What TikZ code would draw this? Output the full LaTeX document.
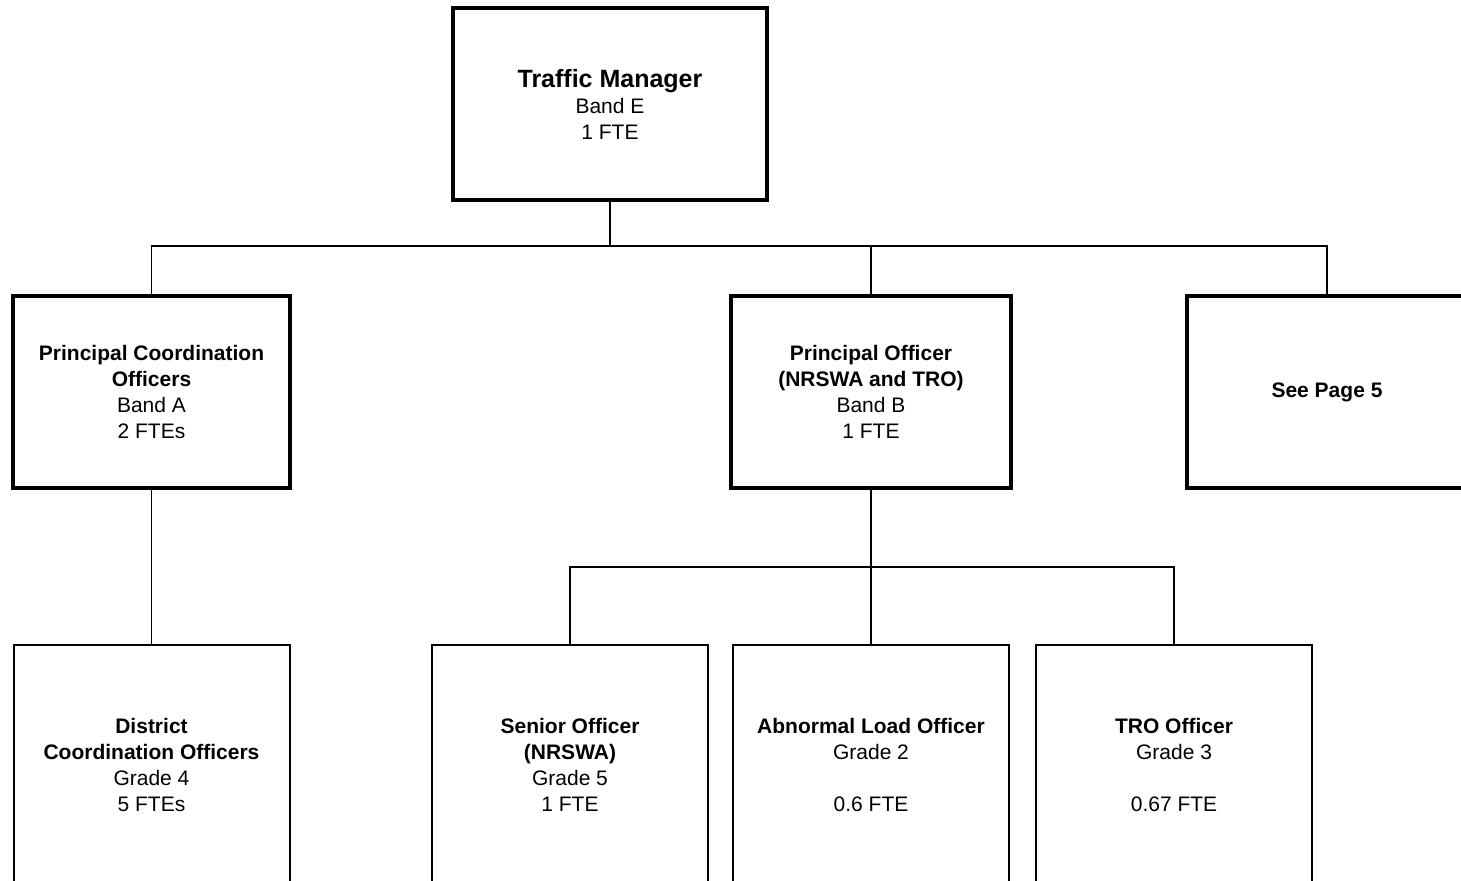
\documentclass[tikz,border=0pt]{standalone}
\usepackage{fontspec}
\setmainfont{Liberation Sans}
\usepackage{tikz}
\usetikzlibrary{positioning}

\begin{document}
\begin{tikzpicture}[x=0.5pt, y=-0.5pt,
    post/.style={draw, line width=2pt, align=center, inner sep=0pt,
        font=\fontsize{10.5}{13}\selectfont},
    staff/.style={draw, line width=1pt, align=center, inner sep=0pt,
        minimum width=138pt, minimum height=120pt,
        font=\fontsize{10.5}{13}\selectfont},
    link/.style={line width=0.75pt}]
        \useasboundingbox (0,0) rectangle (1461,880);
        \clip (0,0) rectangle (1461,880);
        \node [post, minimum width=157pt, minimum height=96pt] (tm) at (610,104)
            {{\fontsize{12.5}{15}\selectfont\bfseries Traffic Manager}\\Band E\\1 FTE};
        \node [post, minimum width=138.5pt, minimum height=96pt] (pco) at (151.5,392)
            {\textbf{Principal Coordination}\\\textbf{Officers}\\Band A\\2 FTEs};
        \node [post, minimum width=140pt, minimum height=96pt] (po) at (871,392)
            {\textbf{Principal Officer}\\\textbf{(NRSWA and TRO)}\\Band B\\1 FTE};
        \node [post, minimum width=140pt, minimum height=96pt] (page) at (1327,392)
            {\textbf{See Page 5}};
        \node [staff] (dco) at (151.5,765)
            {\textbf{District}\\\textbf{Coordination Officers}\\Grade 4\\5 FTEs};
        \node [staff] (so) at (570,765)
            {\textbf{Senior Officer}\\\textbf{(NRSWA)}\\Grade 5\\1 FTE};
        \node [staff] (alo) at (871,765)
            {\textbf{Abnormal Load Officer}\\Grade 2\\[13pt]0.6 FTE};
        \node [staff] (tro) at (1174,765)
            {\textbf{TRO Officer}\\Grade 3\\[13pt]0.67 FTE};
        \coordinate (top bus) at (610,246);
        \coordinate (po bus) at (871,567);
        \draw [link] (tm) to (top bus);
        \draw [link] (top bus) -| (pco);
        \draw [link] (top bus) -| (po);
        \draw [link] (top bus) -| (page);
        \draw [link] (pco) to (dco);
        \draw [link] (po) to (po bus);
        \draw [link] (po bus) -| (so);
        \draw [link] (po bus) to (alo);
        \draw [link] (po bus) -| (tro);
    \end{tikzpicture}
\end{document}
